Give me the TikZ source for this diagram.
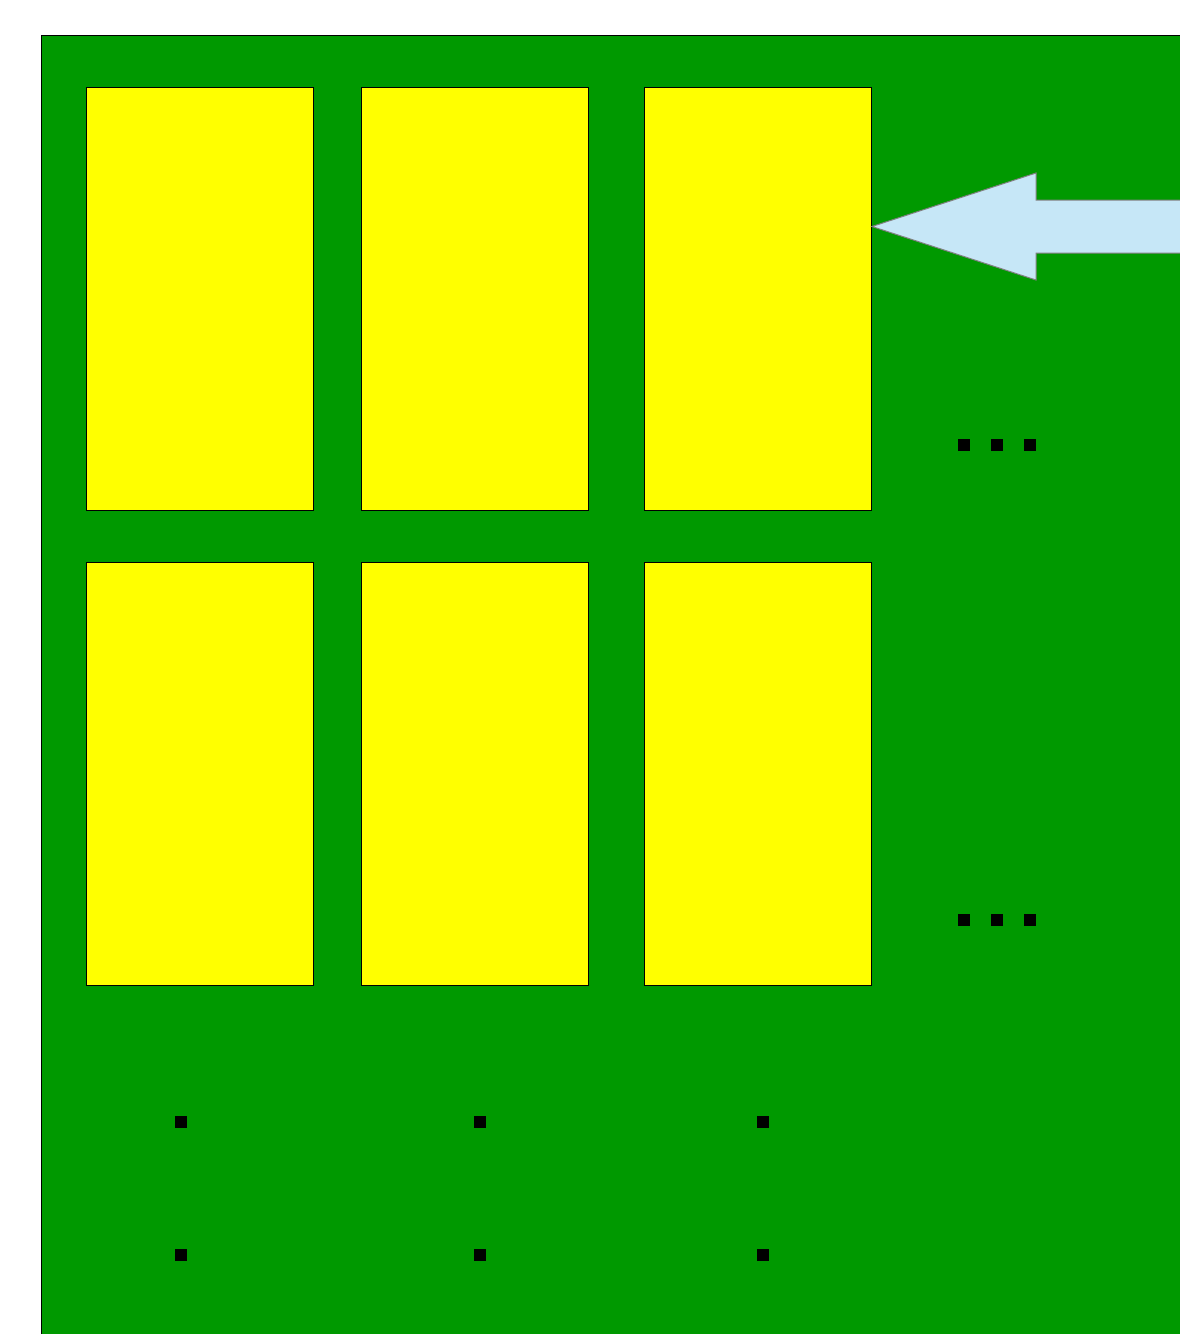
\documentclass[tikz,border=0pt]{standalone}
\begin{document}
\begin{tikzpicture}[x=1pt,y=-1pt,
  board/.style={fill=boardgreen,draw=black,line width=1pt},
  cell/.style={fill=cellyellow,draw=black,line width=0.8pt},
  dot/.style={fill=black},
  bigarrow/.style={fill=arrowblue,draw=gray,line width=1pt}]
\definecolor{boardgreen}{RGB}{0,153,0}
\definecolor{cellyellow}{RGB}{255,255,0}
\definecolor{arrowblue}{RGB}{198,231,247}
\useasboundingbox (0,0) rectangle (1180,1334);
\fill[white] (0,0) rectangle (1180,1334);
\draw[board] (41,35) rectangle (1182,1336);
% cells
\foreach \x in {86,361,644}{
  \draw[cell] (\x,87) rectangle ++(227.5,423);
  \draw[cell] (\x,562) rectangle ++(227.5,423);
}
% arrow
\draw[bigarrow] (872,226.5) -- (1036,173) -- (1036,200) -- (1182,200) -- (1182,253) -- (1036,253) -- (1036,280) -- cycle;
% horizontal dots
\foreach \y in {445,920}{
  \foreach \x in {964,997,1030}{
    \fill[dot] (\x-6,\y-6) rectangle (\x+6,\y+6);
  }
}
% vertical dots
\foreach \x in {181,480,763}{
  \foreach \y in {1122,1255}{
    \fill[dot] (\x-6,\y-6) rectangle (\x+6,\y+6);
  }
}
\end{tikzpicture}
\end{document}
